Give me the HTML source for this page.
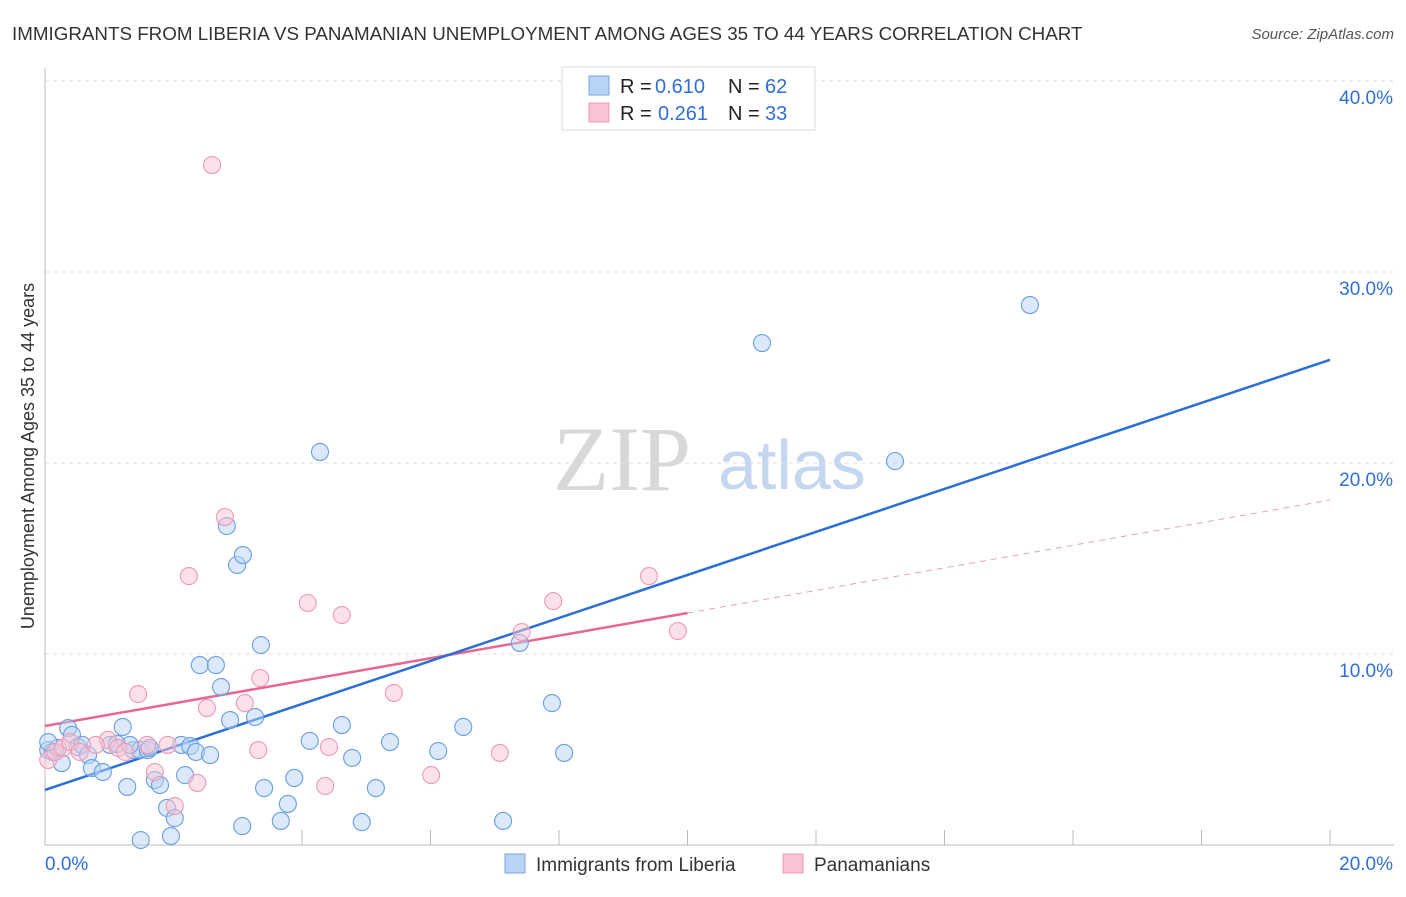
<!DOCTYPE html>
<html><head><meta charset="utf-8"><style>
body{margin:0;background:#fff;font-family:"Liberation Sans",sans-serif;}
</style></head><body>
<svg id="c" width="1406" height="892" xmlns="http://www.w3.org/2000/svg" style="font-family:'Liberation Sans',sans-serif">
<text x="12" y="40" font-size="18.8" fill="#333">IMMIGRANTS FROM LIBERIA VS PANAMANIAN UNEMPLOYMENT AMONG AGES 35 TO 44 YEARS CORRELATION CHART</text>
<text x="1394" y="39" font-size="15" fill="#555" font-style="italic" text-anchor="end">Source: ZipAtlas.com</text>
<text x="0" y="0" transform="translate(34,456) rotate(-90)" font-size="18" fill="#333" text-anchor="middle">Unemployment Among Ages 35 to 44 years</text>
<g><text x="553" y="490" font-size="92" style="font-family:'Liberation Serif',serif" fill="#d8d8d8">ZIP</text><text x="718" y="489" font-size="70" fill="#c4d6f0">atlas</text></g>
<g id="grid"></g><g id="axes"></g><g id="lines"></g><g id="pts"></g>
<g>
<rect x="562" y="67" width="253" height="63" fill="#fff" stroke="#ddd"/>
<rect x="589" y="76" width="20" height="19" fill="#b8d3f5" stroke="#7aa6e0"/>
<rect x="589" y="103" width="20" height="19" fill="#f9c4d4" stroke="#ec9ab3"/>
<text x="620" y="93" font-size="20" fill="#222">R =</text><text x="655" y="93" font-size="20" fill="#2f6fd6">0.610</text>
<text x="728" y="93" font-size="20" fill="#222">N =</text><text x="765" y="93" font-size="20" fill="#2f6fd6">62</text>
<text x="620" y="120" font-size="20" fill="#222">R =</text><text x="658" y="120" font-size="20" fill="#2f6fd6">0.261</text>
<text x="728" y="120" font-size="20" fill="#222">N =</text><text x="765" y="120" font-size="20" fill="#2f6fd6">33</text>
</g>
<g>
<rect x="505" y="854" width="20" height="19" fill="#b8d3f5" stroke="#7aa6e0"/>
<text x="536" y="871" font-size="19" fill="#333">Immigrants from Liberia</text>
<rect x="783" y="854" width="20" height="19" fill="#f9c4d4" stroke="#ec9ab3"/>
<text x="814" y="871" font-size="19" fill="#333">Panamanians</text>
</g>
</svg>
<script>
const yTicks=[10,20,30,40];
const yTickLabels=["10.0%","20.0%","30.0%","40.0%"];
const xTicks=[4,6,8,10,12,14,16,18,20];
const blueX=[0.05,0.12,0.2,0.26,0.36,0.42,0.51,0.58,0.67,0.73,0.9,1.01,1.12,1.21,1.28,1.37,1.48,1.49,1.6,1.63,1.71,1.79,1.9,1.96,2.02,2.12,2.18,2.26,2.35,2.41,2.57,2.66,2.74,2.83,2.88,2.99,3.07,3.08,3.27,3.36,3.41,3.67,3.78,3.88,4.12,4.28,4.62,4.78,4.93,5.15,5.37,6.12,6.51,7.13,7.39,7.89,8.08,11.16,13.23,15.33,0.05,1.32];
const blueY=[4.97,4.87,5.08,4.29,6.12,5.76,5.13,5.24,4.71,4.03,3.82,5.24,5.29,6.18,3.04,4.97,4.97,0.26,4.97,5.08,3.40,3.14,1.94,0.47,1.41,5.24,3.66,5.18,4.87,9.42,4.71,9.42,8.27,16.70,6.54,14.66,0.99,15.18,6.70,10.47,2.98,1.26,2.15,3.51,5.45,20.58,6.28,4.56,1.20,2.98,5.39,4.92,6.18,1.26,10.58,7.43,4.82,26.28,20.10,28.27,5.39,5.24];
const pinkX=[2.6,2.8,2.24,4.09,4.62,7.91,9.4,9.85,7.42,3.35,1.45,5.43,3.11,2.52,0.98,1.59,1.91,4.42,3.32,7.08,6.01,1.71,2.37,4.36,2.02,0.05,0.16,0.28,0.39,0.54,0.79,1.14,1.25];
const pinkY=[35.6,17.17,14.08,12.67,12.04,12.77,14.08,11.2,11.15,8.74,7.9,7.96,7.43,7.17,5.5,5.24,5.24,5.13,4.97,4.82,3.66,3.82,3.25,3.09,2.04,4.45,4.87,5.08,5.39,4.87,5.24,5.08,4.87];
const blueLine=[2.88,25.4];
const pinkLine=[6.23,18.06];
const pinkSolidEnd=10;
const NS="http://www.w3.org/2000/svg";
const X=v=>45+v*64.25, Y=v=>845-v*19.1;
function mk(t,a,p){const e=document.createElementNS(NS,t);for(const k in a)e.setAttribute(k,a[k]);p.appendChild(e);return e;}
const grid=document.getElementById('grid'),axes=document.getElementById('axes'),lines=document.getElementById('lines'),pts=document.getElementById('pts');
yTicks.forEach((t,i)=>{
 const l=mk('line',{x1:45,x2:1394,y1:Y(t),y2:Y(t),stroke:'#ddd','stroke-dasharray':'4,4'},grid);
 
 
 const tx=mk('text',{x:1393,y:Y(t)+23,'font-size':19,fill:'#2f6fd6','text-anchor':'end'},axes);
 tx.textContent=yTickLabels[i];
 
 
});
let a=mk('line',{x1:45,x2:45,y1:68,y2:845,stroke:'#bbb'},axes);


a=mk('line',{x1:45,x2:1394,y1:845,y2:845,stroke:'#bbb'},axes);


xTicks.forEach(t=>{
 const l=mk('line',{x1:X(t),x2:X(t),y1:830,y2:845,stroke:'#bbb'},axes);
 
 
});
let t0=mk('text',{x:45,y:870,'font-size':19,fill:'#2f6fd6'},axes);t0.textContent='0.0%';


let t1=mk('text',{x:1393,y:870,'font-size':19,fill:'#2f6fd6','text-anchor':'end'},axes);t1.textContent='20.0%';


function dot(x,y,f,s,n){const c=mk('circle',{cx:X(x),cy:Y(y),r:8.5,fill:f,'fill-opacity':0.5,stroke:s,'stroke-width':1.1},pts);
 
 }
blueX.forEach((x,i)=>dot(x,blueY[i],'#b8d3f5','#6a9ee0','liberia-point'));
pinkX.forEach((x,i)=>dot(x,pinkY[i],'#f9c4d4','#ee9ab4','panamanian-point'));
const py=x=>pinkLine[0]+(pinkLine[1]-pinkLine[0])*x/20;
let l=mk('line',{x1:X(pinkSolidEnd),y1:Y(py(pinkSolidEnd)),x2:X(20),y2:Y(pinkLine[1]),stroke:'#e8a0b6','stroke-width':1,'stroke-dasharray':'6,5'},lines);


l=mk('line',{x1:X(0),y1:Y(pinkLine[0]),x2:X(pinkSolidEnd),y2:Y(py(pinkSolidEnd)),stroke:'#e8668f','stroke-width':2.5},lines);


l=mk('line',{x1:X(0),y1:Y(blueLine[0]),x2:X(20),y2:Y(blueLine[1]),stroke:'#2b6fd6','stroke-width':2.5},lines);


</script>
</body></html>
